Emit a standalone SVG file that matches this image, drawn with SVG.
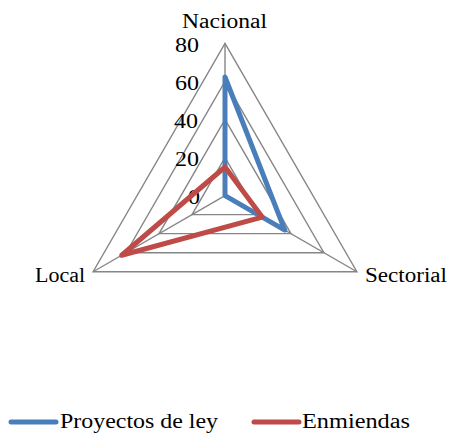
<svg xmlns="http://www.w3.org/2000/svg" width="450" height="433" viewBox="0 0 450 433" font-family="'Liberation Serif', 'Times New Roman', 'DejaVu Serif', serif">
<style>
.grid{fill:none;stroke:#868686;stroke-width:1.4}
.ser{fill:none;stroke-width:5;stroke-linejoin:round;stroke-linecap:round}
.blue{stroke:#4A7EBB}
.red{stroke:#BE4B48}
.t{font-family:'Liberation Serif','Times New Roman','DejaVu Serif',serif;font-size:20px;fill:#000}
</style>
<rect width="450" height="433" fill="#fff"/>
<g id="grid">
<polygon class="grid" points="225,157.6 257.97,214.64 192.03,214.64"/>
<polygon class="grid" points="225,119.45 290.95,233.67 159.05,233.67"/>
<polygon class="grid" points="225,81.4 323.9,252.7 126.1,252.7"/>
<polygon class="grid" points="225,43.3 356.9,271.75 93.1,271.75"/>
<line class="grid" x1="225" y1="195.6" x2="225" y2="43.3"/>
<line class="grid" x1="225" y1="195.6" x2="356.9" y2="271.75"/>
<line class="grid" x1="225" y1="195.6" x2="93.1" y2="271.75"/>
</g>
<g id="axis-labels">
<text class="t" x="199" y="52" text-anchor="end" textLength="24" lengthAdjust="spacingAndGlyphs">80</text>
<text class="t" x="199" y="90" text-anchor="end" textLength="24" lengthAdjust="spacingAndGlyphs">60</text>
<text class="t" x="198" y="128" text-anchor="end" textLength="24" lengthAdjust="spacingAndGlyphs">40</text>
<text class="t" x="199" y="166" text-anchor="end" textLength="24" lengthAdjust="spacingAndGlyphs">20</text>
<text class="t" x="200" y="204" text-anchor="end" textLength="12" lengthAdjust="spacingAndGlyphs">0</text>
</g>
<g id="node-nacional"><text class="t" x="182" y="28" textLength="85" lengthAdjust="spacingAndGlyphs">Nacional</text></g>
<g id="node-sectorial"><text class="t" x="365" y="282" textLength="82" lengthAdjust="spacingAndGlyphs">Sectorial</text></g>
<g id="node-local"><text class="t" x="35" y="282" textLength="50" lengthAdjust="spacingAndGlyphs">Local</text></g>
<g id="connectors">
<polygon class="ser blue" points="225,77 284.8,230.1 225,195.6"/>
<polygon class="ser red" points="225,167 262.2,217.1 121.7,255.25"/>
</g>
<g id="legend">
<line class="ser blue" x1="11" y1="422" x2="56" y2="422"/>
<text class="t" x="60" y="428" textLength="158" lengthAdjust="spacingAndGlyphs">Proyectos de ley</text>
<line class="ser red" x1="254" y1="422" x2="299" y2="422"/>
<text class="t" x="302" y="428" textLength="108" lengthAdjust="spacingAndGlyphs">Enmiendas</text>
</g>
</svg>
